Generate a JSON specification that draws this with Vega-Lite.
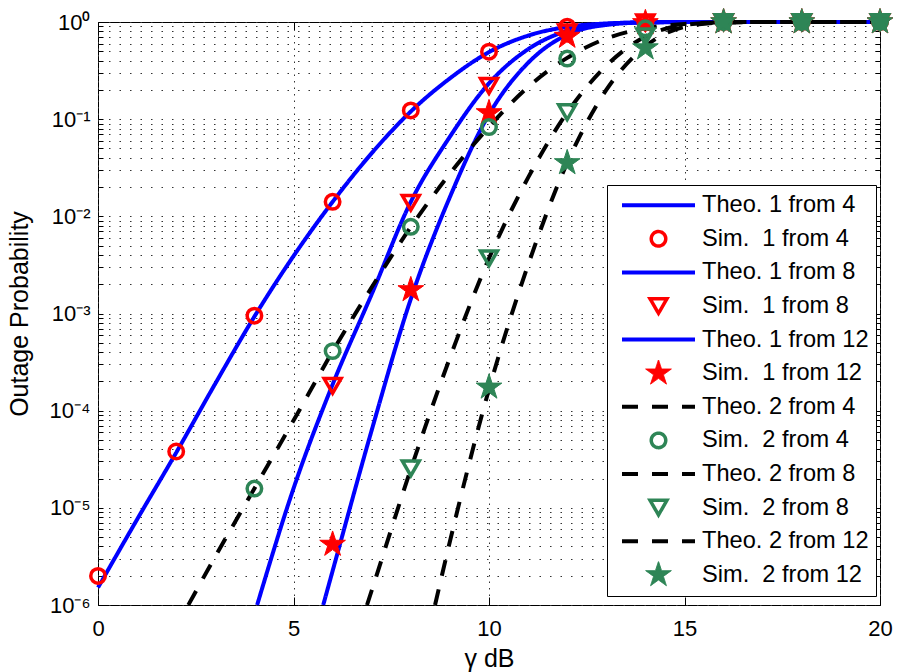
{
  "$schema": "https://vega.github.io/schema/vega-lite/v6.json",
  "width": 782,
  "height": 583,
  "autosize": {"type": "none"},
  "padding": {"left": 98, "top": 22, "right": 17, "bottom": 67},
  "background": "white",
  "config": {
    "view": {"stroke": "black", "strokeWidth": 1},
    "font": "Liberation Sans",
    "axis": {"labelFont": "Liberation Sans", "titleFont": "Liberation Sans", "labelColor": "black", "titleColor": "black", "titleFontWeight": "normal", "tickColor": "black", "domain": false, "labelFlush": false},
    "legend": {
      "orient": "none", "legendX": 509, "legendY": 163,
      "padding": 7, "strokeColor": "black", "fillColor": "white",
      "labelFont": "Liberation Sans", "labelFontSize": 23.6, "labelColor": "black", "labelLimit": 400,
      "clipHeight": 26.4, "rowPadding": 6.6, "symbolOffset": 6, "labelOffset": 5,
      "symbolSize": 5329, "symbolStrokeWidth": 4, "symbolOpacity": 1
    }
  },
  "datasets": {
    "theo": [
      {"s": "Theo. 1 from 4", "x": 0, "p": 1.51e-6},
      {"s": "Theo. 1 from 4", "x": 1, "p": 7.6e-6},
      {"s": "Theo. 1 from 4", "x": 2, "p": 3.7e-5},
      {"s": "Theo. 1 from 4", "x": 3, "p": 1.9e-4},
      {"s": "Theo. 1 from 4", "x": 4, "p": 9.3e-4},
      {"s": "Theo. 1 from 4", "x": 5, "p": 3.9e-3},
      {"s": "Theo. 1 from 4", "x": 6, "p": 0.0141},
      {"s": "Theo. 1 from 4", "x": 7, "p": 0.0447},
      {"s": "Theo. 1 from 4", "x": 8, "p": 0.12},
      {"s": "Theo. 1 from 4", "x": 9, "p": 0.263},
      {"s": "Theo. 1 from 4", "x": 10, "p": 0.49},
      {"s": "Theo. 1 from 4", "x": 11, "p": 0.724},
      {"s": "Theo. 1 from 4", "x": 12, "p": 0.891},
      {"s": "Theo. 1 from 4", "x": 13, "p": 0.966},
      {"s": "Theo. 1 from 4", "x": 14, "p": 0.991},
      {"s": "Theo. 1 from 4", "x": 15, "p": 0.998},
      {"s": "Theo. 1 from 4", "x": 16, "p": 1},
      {"s": "Theo. 1 from 4", "x": 18, "p": 1},
      {"s": "Theo. 1 from 4", "x": 20, "p": 1},
      {"s": "Theo. 1 from 8", "x": 4.07, "p": 1e-6},
      {"s": "Theo. 1 from 8", "x": 5, "p": 1.58e-5},
      {"s": "Theo. 1 from 8", "x": 6, "p": 1.86e-4},
      {"s": "Theo. 1 from 8", "x": 7, "p": 1.58e-3},
      {"s": "Theo. 1 from 8", "x": 8, "p": 0.0141},
      {"s": "Theo. 1 from 8", "x": 9, "p": 0.066},
      {"s": "Theo. 1 from 8", "x": 10, "p": 0.234},
      {"s": "Theo. 1 from 8", "x": 11, "p": 0.525},
      {"s": "Theo. 1 from 8", "x": 12, "p": 0.813},
      {"s": "Theo. 1 from 8", "x": 13, "p": 0.955},
      {"s": "Theo. 1 from 8", "x": 14, "p": 0.993},
      {"s": "Theo. 1 from 8", "x": 15, "p": 1},
      {"s": "Theo. 1 from 8", "x": 20, "p": 1},
      {"s": "Theo. 1 from 12", "x": 5.76, "p": 1e-6},
      {"s": "Theo. 1 from 12", "x": 6, "p": 2.24e-6},
      {"s": "Theo. 1 from 12", "x": 7, "p": 6.3e-5},
      {"s": "Theo. 1 from 12", "x": 8, "p": 1.41e-3},
      {"s": "Theo. 1 from 12", "x": 9, "p": 0.0158},
      {"s": "Theo. 1 from 12", "x": 10, "p": 0.112},
      {"s": "Theo. 1 from 12", "x": 11, "p": 0.38},
      {"s": "Theo. 1 from 12", "x": 12, "p": 0.741},
      {"s": "Theo. 1 from 12", "x": 13, "p": 0.933},
      {"s": "Theo. 1 from 12", "x": 14, "p": 0.989},
      {"s": "Theo. 1 from 12", "x": 15, "p": 1},
      {"s": "Theo. 1 from 12", "x": 20, "p": 1},
      {"s": "Theo. 2 from 4", "x": 2.31, "p": 1e-6},
      {"s": "Theo. 2 from 4", "x": 3, "p": 3.16e-6},
      {"s": "Theo. 2 from 4", "x": 4, "p": 1.58e-5},
      {"s": "Theo. 2 from 4", "x": 5, "p": 7.9e-5},
      {"s": "Theo. 2 from 4", "x": 6, "p": 4.07e-4},
      {"s": "Theo. 2 from 4", "x": 7, "p": 1.86e-3},
      {"s": "Theo. 2 from 4", "x": 8, "p": 7.76e-3},
      {"s": "Theo. 2 from 4", "x": 9, "p": 0.0275},
      {"s": "Theo. 2 from 4", "x": 10, "p": 0.0832},
      {"s": "Theo. 2 from 4", "x": 11, "p": 0.214},
      {"s": "Theo. 2 from 4", "x": 12, "p": 0.427},
      {"s": "Theo. 2 from 4", "x": 13, "p": 0.676},
      {"s": "Theo. 2 from 4", "x": 14, "p": 0.861},
      {"s": "Theo. 2 from 4", "x": 15, "p": 0.955},
      {"s": "Theo. 2 from 4", "x": 16, "p": 0.99},
      {"s": "Theo. 2 from 4", "x": 17, "p": 1},
      {"s": "Theo. 2 from 4", "x": 20, "p": 1},
      {"s": "Theo. 2 from 8", "x": 6.88, "p": 1e-6},
      {"s": "Theo. 2 from 8", "x": 7, "p": 1.41e-6},
      {"s": "Theo. 2 from 8", "x": 8, "p": 2.5e-5},
      {"s": "Theo. 2 from 8", "x": 9, "p": 3.5e-4},
      {"s": "Theo. 2 from 8", "x": 10, "p": 3.7e-3},
      {"s": "Theo. 2 from 8", "x": 11, "p": 0.025},
      {"s": "Theo. 2 from 8", "x": 12, "p": 0.117},
      {"s": "Theo. 2 from 8", "x": 13, "p": 0.355},
      {"s": "Theo. 2 from 8", "x": 14, "p": 0.708},
      {"s": "Theo. 2 from 8", "x": 15, "p": 0.933},
      {"s": "Theo. 2 from 8", "x": 16, "p": 0.993},
      {"s": "Theo. 2 from 8", "x": 17, "p": 1},
      {"s": "Theo. 2 from 8", "x": 20, "p": 1},
      {"s": "Theo. 2 from 12", "x": 8.62, "p": 1e-6},
      {"s": "Theo. 2 from 12", "x": 9, "p": 4.5e-6},
      {"s": "Theo. 2 from 12", "x": 10, "p": 1.66e-4},
      {"s": "Theo. 2 from 12", "x": 11, "p": 3.16e-3},
      {"s": "Theo. 2 from 12", "x": 12, "p": 0.0355},
      {"s": "Theo. 2 from 12", "x": 13, "p": 0.2},
      {"s": "Theo. 2 from 12", "x": 14, "p": 0.562},
      {"s": "Theo. 2 from 12", "x": 15, "p": 0.891},
      {"s": "Theo. 2 from 12", "x": 16, "p": 0.989},
      {"s": "Theo. 2 from 12", "x": 17, "p": 1},
      {"s": "Theo. 2 from 12", "x": 20, "p": 1}
    ],
    "sim": [
      {"s": "Sim.\u00a0 1 from 4", "x": 0, "p": 1.99e-6},
      {"s": "Sim.\u00a0 1 from 4", "x": 2, "p": 3.8e-5},
      {"s": "Sim.\u00a0 1 from 4", "x": 4, "p": 9.5e-4},
      {"s": "Sim.\u00a0 1 from 4", "x": 6, "p": 0.0141},
      {"s": "Sim.\u00a0 1 from 4", "x": 8, "p": 0.123},
      {"s": "Sim.\u00a0 1 from 4", "x": 10, "p": 0.495},
      {"s": "Sim.\u00a0 1 from 4", "x": 12, "p": 0.895},
      {"s": "Sim.\u00a0 1 from 4", "x": 14, "p": 0.99},
      {"s": "Sim.\u00a0 1 from 4", "x": 16, "p": 1},
      {"s": "Sim.\u00a0 1 from 4", "x": 18, "p": 1},
      {"s": "Sim.\u00a0 1 from 4", "x": 20, "p": 1},
      {"s": "Sim.\u00a0 1 from 8", "x": 6, "p": 1.8e-4},
      {"s": "Sim.\u00a0 1 from 8", "x": 8, "p": 0.0138},
      {"s": "Sim.\u00a0 1 from 8", "x": 10, "p": 0.22},
      {"s": "Sim.\u00a0 1 from 8", "x": 12, "p": 0.78},
      {"s": "Sim.\u00a0 1 from 8", "x": 14, "p": 0.99},
      {"s": "Sim.\u00a0 1 from 8", "x": 16, "p": 1},
      {"s": "Sim.\u00a0 1 from 8", "x": 18, "p": 1},
      {"s": "Sim.\u00a0 1 from 8", "x": 20, "p": 1},
      {"s": "Sim.\u00a0 1 from 12", "x": 6, "p": 4.2e-6},
      {"s": "Sim.\u00a0 1 from 12", "x": 8, "p": 1.75e-3},
      {"s": "Sim.\u00a0 1 from 12", "x": 10, "p": 0.116},
      {"s": "Sim.\u00a0 1 from 12", "x": 12, "p": 0.71},
      {"s": "Sim.\u00a0 1 from 12", "x": 14, "p": 0.98},
      {"s": "Sim.\u00a0 1 from 12", "x": 16, "p": 1},
      {"s": "Sim.\u00a0 1 from 12", "x": 18, "p": 1},
      {"s": "Sim.\u00a0 1 from 12", "x": 20, "p": 1},
      {"s": "Sim.\u00a0 2 from 4", "x": 4, "p": 1.58e-5},
      {"s": "Sim.\u00a0 2 from 4", "x": 6, "p": 4.1e-4},
      {"s": "Sim.\u00a0 2 from 4", "x": 8, "p": 7.8e-3},
      {"s": "Sim.\u00a0 2 from 4", "x": 10, "p": 0.083},
      {"s": "Sim.\u00a0 2 from 4", "x": 12, "p": 0.42},
      {"s": "Sim.\u00a0 2 from 4", "x": 14, "p": 0.86},
      {"s": "Sim.\u00a0 2 from 4", "x": 16, "p": 1},
      {"s": "Sim.\u00a0 2 from 4", "x": 18, "p": 1},
      {"s": "Sim.\u00a0 2 from 4", "x": 20, "p": 1},
      {"s": "Sim.\u00a0 2 from 8", "x": 8, "p": 2.55e-5},
      {"s": "Sim.\u00a0 2 from 8", "x": 10, "p": 3.7e-3},
      {"s": "Sim.\u00a0 2 from 8", "x": 12, "p": 0.118},
      {"s": "Sim.\u00a0 2 from 8", "x": 14, "p": 0.71},
      {"s": "Sim.\u00a0 2 from 8", "x": 16, "p": 1},
      {"s": "Sim.\u00a0 2 from 8", "x": 18, "p": 1},
      {"s": "Sim.\u00a0 2 from 8", "x": 20, "p": 1},
      {"s": "Sim.\u00a0 2 from 12", "x": 10, "p": 1.74e-4},
      {"s": "Sim.\u00a0 2 from 12", "x": 12, "p": 0.0355},
      {"s": "Sim.\u00a0 2 from 12", "x": 14, "p": 0.54},
      {"s": "Sim.\u00a0 2 from 12", "x": 16, "p": 1},
      {"s": "Sim.\u00a0 2 from 12", "x": 18, "p": 1},
      {"s": "Sim.\u00a0 2 from 12", "x": 20, "p": 1}
    ]
  },
  "layer": [
    {
      "data": {"name": "theo"},
      "mark": {"type": "line", "interpolate": "monotone", "strokeCap": "butt", "strokeJoin": "round"},
      "encoding": {
        "x": {
          "field": "x", "type": "quantitative",
          "scale": {"domain": [0, 20], "nice": false, "zero": false},
          "axis": {
            "orient": "bottom", "values": [0, 5, 10, 15, 20], "title": "γ dB",
            "grid": true, "gridDash": [1.5, 5], "gridColor": "#333", "gridWidth": 1,
            "tickSize": -8, "labelPadding": 21, "labelFontSize": 22,
            "titleFontSize": 25, "titleX": 391, "titleY": 61, "titleBaseline": "alphabetic"
          }
        },
        "y": {
          "field": "p", "type": "quantitative",
          "scale": {"type": "log", "domain": [1e-6, 1], "nice": false},
          "axis": {
            "orient": "left",
            "values": [1e-6, 2e-6, 3e-6, 4e-6, 5e-6, 6e-6, 7e-6, 8e-6, 9e-6, 1e-5, 2e-5, 3e-5, 4e-5, 5e-5, 6e-5, 7e-5, 8e-5, 9e-5, 1e-4, 2e-4, 3e-4, 4e-4, 5e-4, 6e-4, 7e-4, 8e-4, 9e-4, 0.001, 0.002, 0.003, 0.004, 0.005, 0.006, 0.007, 0.008, 0.009, 0.01, 0.02, 0.03, 0.04, 0.05, 0.06, 0.07, 0.08, 0.09, 0.1, 0.2, 0.3, 0.4, 0.5, 0.6, 0.7, 0.8, 0.9, 1],
            "labelExpr": "abs(log(datum.value) / LN10 - round(log(datum.value) / LN10)) < 0.001 ? '10' + ['⁰', '⁻¹', '⁻²', '⁻³', '⁻⁴', '⁻⁵', '⁻⁶'][-round(log(datum.value) / LN10)] : ''",
            "title": "Outage Probability",
            "grid": true, "gridDash": [1.5, 9], "gridColor": "#333", "gridWidth": 1,
            "tickSize": -5, "labelPadding": 13, "labelFontSize": 22,
            "titleFontSize": 25, "titleX": -66, "titleY": 291.5
          }
        },
        "stroke": {
          "field": "s", "type": "nominal",
          "scale": {
            "domain": ["Theo. 1 from 4", "Sim.\u00a0 1 from 4", "Theo. 1 from 8", "Sim.\u00a0 1 from 8", "Theo. 1 from 12", "Sim.\u00a0 1 from 12", "Theo. 2 from 4", "Sim.\u00a0 2 from 4", "Theo. 2 from 8", "Sim.\u00a0 2 from 8", "Theo. 2 from 12", "Sim.\u00a0 2 from 12"],
            "range": ["#0000ff", "#ff0000", "#0000ff", "#ff0000", "#0000ff", "#ff0000", "#000000", "#2e8556", "#000000", "#2e8556", "#000000", "#2e8556"]
          },
          "legend": {
            "title": null,
            "encode": {
              "symbols": {
                "update": {
                  "stroke": {"scale": "stroke", "field": "value"},
                  "opacity": {"value": 1},
                  "shape": {"signal": "indexof(datum.value, 'Theo') == 0 ? 'stroke' : indexof(datum.value, 'from 4') > 0 ? 'circle' : indexof(datum.value, 'from 8') > 0 ? 'triangle-down' : 'M0,-1L0.2245,-0.309L0.9511,-0.309L0.3633,0.118L0.5878,0.809L0,0.382L-0.5878,0.809L-0.3633,0.118L-0.9511,-0.309L-0.2245,-0.309Z'"},
                  "size": {"signal": "indexof(datum.value, 'Theo') == 0 ? 5329 : indexof(datum.value, 'from 4') > 0 ? 210 : indexof(datum.value, 'from 8') > 0 ? 289 : 729"},
                  "fill": {"signal": "indexof(datum.value, 'Sim') == 0 && indexof(datum.value, '1 from 12') > 0 ? '#ff0000' : indexof(datum.value, 'Sim') == 0 && indexof(datum.value, '2 from 12') > 0 ? '#2e8556' : 'transparent'"},
                  "strokeDash": {"signal": "indexof(datum.value, 'Theo. 2') == 0 ? [16, 14] : [1, 0]"},
                  "strokeWidth": {"signal": "indexof(datum.value, 'Theo') == 0 ? 4 : indexof(datum.value, 'from 12') > 0 ? 1 : 3.5"}
                }
              }
            }
          }
        },
        "strokeDash": {
          "field": "s", "type": "nominal",
          "scale": {
            "domain": ["Theo. 1 from 4", "Sim.\u00a0 1 from 4", "Theo. 1 from 8", "Sim.\u00a0 1 from 8", "Theo. 1 from 12", "Sim.\u00a0 1 from 12", "Theo. 2 from 4", "Sim.\u00a0 2 from 4", "Theo. 2 from 8", "Sim.\u00a0 2 from 8", "Theo. 2 from 12", "Sim.\u00a0 2 from 12"],
            "range": [[1, 0], [1, 0], [1, 0], [1, 0], [1, 0], [1, 0], [16, 14], [1, 0], [16, 14], [1, 0], [16, 14], [1, 0]]
          },
          "legend": null
        },
        "strokeWidth": {
          "field": "s", "type": "nominal",
          "scale": {
            "type": "ordinal",
            "domain": ["Theo. 1 from 4", "Sim.\u00a0 1 from 4", "Theo. 1 from 8", "Sim.\u00a0 1 from 8", "Theo. 1 from 12", "Sim.\u00a0 1 from 12", "Theo. 2 from 4", "Sim.\u00a0 2 from 4", "Theo. 2 from 8", "Sim.\u00a0 2 from 8", "Theo. 2 from 12", "Sim.\u00a0 2 from 12"],
            "range": [4, 3.5, 4, 3.5, 4, 1, 4, 3.5, 4, 3.5, 4, 1]
          },
          "legend": null
        }
      }
    },
    {
      "data": {"name": "sim"},
      "mark": {"type": "point", "opacity": 1, "strokeJoin": "miter"},
      "encoding": {
        "x": {
          "field": "x", "type": "quantitative",
          "axis": {"orient": "top", "values": [0, 5, 10, 15, 20], "labels": false, "grid": false, "tickSize": -8, "title": null}
        },
        "y": {
          "field": "p", "type": "quantitative",
          "axis": {
            "orient": "right",
            "values": [1e-6, 2e-6, 3e-6, 4e-6, 5e-6, 6e-6, 7e-6, 8e-6, 9e-6, 1e-5, 2e-5, 3e-5, 4e-5, 5e-5, 6e-5, 7e-5, 8e-5, 9e-5, 1e-4, 2e-4, 3e-4, 4e-4, 5e-4, 6e-4, 7e-4, 8e-4, 9e-4, 0.001, 0.002, 0.003, 0.004, 0.005, 0.006, 0.007, 0.008, 0.009, 0.01, 0.02, 0.03, 0.04, 0.05, 0.06, 0.07, 0.08, 0.09, 0.1, 0.2, 0.3, 0.4, 0.5, 0.6, 0.7, 0.8, 0.9, 1],
            "labels": false, "grid": false, "tickSize": -5, "title": null
          }
        },
        "stroke": {
          "field": "s", "type": "nominal",
          "scale": {
            "domain": ["Theo. 1 from 4", "Sim.\u00a0 1 from 4", "Theo. 1 from 8", "Sim.\u00a0 1 from 8", "Theo. 1 from 12", "Sim.\u00a0 1 from 12", "Theo. 2 from 4", "Sim.\u00a0 2 from 4", "Theo. 2 from 8", "Sim.\u00a0 2 from 8", "Theo. 2 from 12", "Sim.\u00a0 2 from 12"],
            "range": ["#0000ff", "#ff0000", "#0000ff", "#ff0000", "#0000ff", "#ff0000", "#000000", "#2e8556", "#000000", "#2e8556", "#000000", "#2e8556"]
          },
          "legend": {"title": null}
        },
        "strokeWidth": {
          "field": "s", "type": "nominal",
          "scale": {
            "type": "ordinal",
            "domain": ["Theo. 1 from 4", "Sim.\u00a0 1 from 4", "Theo. 1 from 8", "Sim.\u00a0 1 from 8", "Theo. 1 from 12", "Sim.\u00a0 1 from 12", "Theo. 2 from 4", "Sim.\u00a0 2 from 4", "Theo. 2 from 8", "Sim.\u00a0 2 from 8", "Theo. 2 from 12", "Sim.\u00a0 2 from 12"],
            "range": [4, 3.5, 4, 3.5, 4, 1, 4, 3.5, 4, 3.5, 4, 1]
          },
          "legend": null
        },
        "shape": {
          "field": "s", "type": "nominal",
          "scale": {
            "domain": ["Theo. 1 from 4", "Sim.\u00a0 1 from 4", "Theo. 1 from 8", "Sim.\u00a0 1 from 8", "Theo. 1 from 12", "Sim.\u00a0 1 from 12", "Theo. 2 from 4", "Sim.\u00a0 2 from 4", "Theo. 2 from 8", "Sim.\u00a0 2 from 8", "Theo. 2 from 12", "Sim.\u00a0 2 from 12"],
            "range": ["stroke", "circle", "stroke", "triangle-down", "stroke", "M0,-1L0.2245,-0.309L0.9511,-0.309L0.3633,0.118L0.5878,0.809L0,0.382L-0.5878,0.809L-0.3633,0.118L-0.9511,-0.309L-0.2245,-0.309Z", "stroke", "circle", "stroke", "triangle-down", "stroke", "M0,-1L0.2245,-0.309L0.9511,-0.309L0.3633,0.118L0.5878,0.809L0,0.382L-0.5878,0.809L-0.3633,0.118L-0.9511,-0.309L-0.2245,-0.309Z"]
          },
          "legend": null
        },
        "fill": {
          "field": "s", "type": "nominal",
          "scale": {
            "domain": ["Theo. 1 from 4", "Sim.\u00a0 1 from 4", "Theo. 1 from 8", "Sim.\u00a0 1 from 8", "Theo. 1 from 12", "Sim.\u00a0 1 from 12", "Theo. 2 from 4", "Sim.\u00a0 2 from 4", "Theo. 2 from 8", "Sim.\u00a0 2 from 8", "Theo. 2 from 12", "Sim.\u00a0 2 from 12"],
            "range": ["transparent", "transparent", "transparent", "transparent", "transparent", "#ff0000", "transparent", "transparent", "transparent", "transparent", "transparent", "#2e8556"]
          },
          "legend": null
        },
        "size": {
          "field": "s", "type": "nominal",
          "scale": {
            "type": "ordinal",
            "domain": ["Theo. 1 from 4", "Sim.\u00a0 1 from 4", "Theo. 1 from 8", "Sim.\u00a0 1 from 8", "Theo. 1 from 12", "Sim.\u00a0 1 from 12", "Theo. 2 from 4", "Sim.\u00a0 2 from 4", "Theo. 2 from 8", "Sim.\u00a0 2 from 8", "Theo. 2 from 12", "Sim.\u00a0 2 from 12"],
            "range": [5329, 210, 5329, 289, 5329, 729, 5329, 210, 5329, 289, 5329, 729]
          },
          "legend": null
        }
      }
    }
  ]
}
